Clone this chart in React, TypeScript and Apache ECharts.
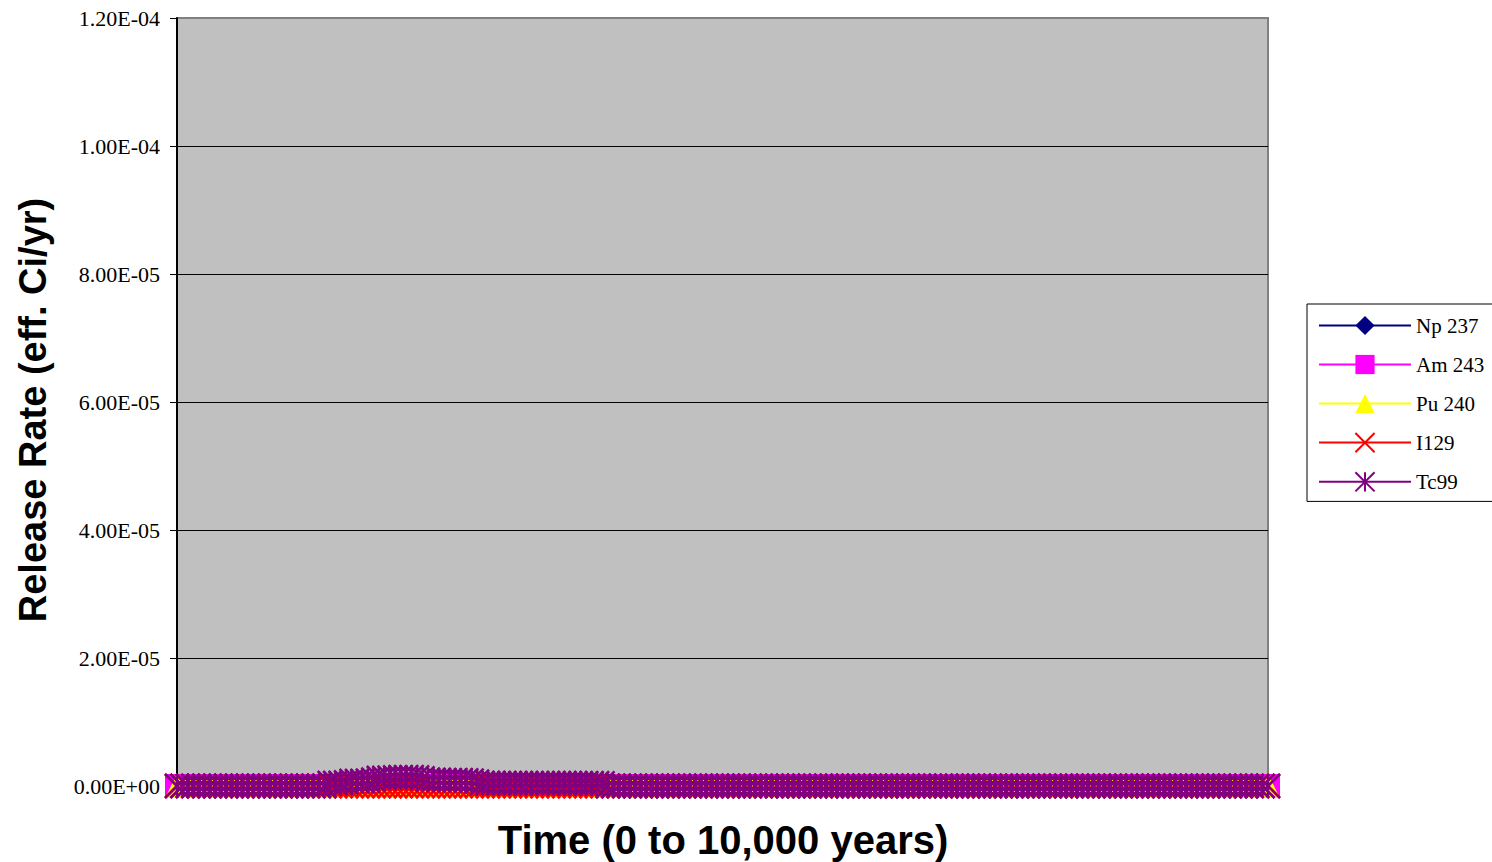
import React, { useEffect, useRef } from "react";
import * as echarts from "echarts";

// Time axis: 0 to 10,000 years in 50-year steps (201 points)
const years: number[] = Array.from({ length: 201 }, (_, i) => i * 50);

const np237: number[] = [
  0,0,0,0,0,0,0,0,0,0,0,0,0,0,0,0,0,0,0,0,
  0,0,0,0,0,0,0,0,0,0,0,0,0,0,0,0,0,0,0,0,
  0,0,0,0,0,0,0,0,0,0,0,0,0,0,0,0,0,0,0,0,
  0,0,0,0,0,0,0,0,0,0,0,0,0,0,0,0,0,0,0,0,
  0,0,0,0,0,0,0,0,0,0,0,0,0,0,0,0,0,0,0,0,
  0,0,0,0,0,0,0,0,0,0,0,0,0,0,0,0,0,0,0,0,
  0,0,0,0,0,0,0,0,0,0,0,0,0,0,0,0,0,0,0,0,
  0,0,0,0,0,0,0,0,0,0,0,0,0,0,0,0,0,0,0,0,
  0,0,0,0,0,0,0,0,0,0,0,0,0,0,0,0,0,0,0,0,
  0,0,0,0,0,0,0,0,0,0,0,0,0,0,0,0,0,0,0,0,
  0,
];

const am243: number[] = [
  0,0,0,0,0,0,0,0,0,0,0,0,0,0,0,0,0,0,0,0,
  0,0,0,0,0,0,0,0,0,0,0,0,0,0,0,0,0,0,0,0,
  0,0,0,0,0,0,0,0,0,0,0,0,0,0,0,0,0,0,0,0,
  0,0,0,0,0,0,0,0,0,0,0,0,0,0,0,0,0,0,0,0,
  0,0,0,0,0,0,0,0,0,0,0,0,0,0,0,0,0,0,0,0,
  0,0,0,0,0,0,0,0,0,0,0,0,0,0,0,0,0,0,0,0,
  0,0,0,0,0,0,0,0,0,0,0,0,0,0,0,0,0,0,0,0,
  0,0,0,0,0,0,0,0,0,0,0,0,0,0,0,0,0,0,0,0,
  0,0,0,0,0,0,0,0,0,0,0,0,0,0,0,0,0,0,0,0,
  0,0,0,0,0,0,0,0,0,0,0,0,0,0,0,0,0,0,0,0,
  0,
];

const pu240: number[] = [
  0,0,0,0,0,0,0,0,0,0,0,0,0,0,0,0,0,0,0,0,
  0,0,0,0,0,0,0,0,0,0,0,0,0,0,0,0,0,0,0,0,
  0,0,0,0,0,0,0,0,0,0,0,0,0,0,0,0,0,0,0,0,
  0,0,0,0,0,0,0,0,0,0,0,0,0,0,0,0,0,0,0,0,
  0,0,0,0,0,0,0,0,0,0,0,0,0,0,0,0,0,0,0,0,
  0,0,0,0,0,0,0,0,0,0,0,0,0,0,0,0,0,0,0,0,
  0,0,0,0,0,0,0,0,0,0,0,0,0,0,0,0,0,0,0,0,
  0,0,0,0,0,0,0,0,0,0,0,0,0,0,0,0,0,0,0,0,
  0,0,0,0,0,0,0,0,0,0,0,0,0,0,0,0,0,0,0,0,
  0,0,0,0,0,0,0,0,0,0,0,0,0,0,0,0,0,0,0,0,
  0,
];

const i129: number[] = [
  0,0,0,0,0,0,0,0,0,0,0,0,0,0,0,0,0,0,0,0,
  0,0,0,0,0,0,0,0,0,0,0,0,0,0,0,0,0,0,0,0,
  0,0,0,0,0,0,0,0,0,0,0,0,0,0,0,0,0,0,0,0,
  0,0,0,0,0,0,0,0,0,0,0,0,0,0,0,0,0,0,0,0,
  0,0,0,0,0,0,0,0,0,0,0,0,0,0,0,0,0,0,0,0,
  0,0,0,0,0,0,0,0,0,0,0,0,0,0,0,0,0,0,0,0,
  0,0,0,0,0,0,0,0,0,0,0,0,0,0,0,0,0,0,0,0,
  0,0,0,0,0,0,0,0,0,0,0,0,0,0,0,0,0,0,0,0,
  0,0,0,0,0,0,0,0,0,0,0,0,0,0,0,0,0,0,0,0,
  0,0,0,0,0,0,0,0,0,0,0,0,0,0,0,0,0,0,0,0,
  0,
];

const tc99: number[] = [
  0,0,0,0,0,0,0,0,0,0,0,0,0,0,0,0,0,0,0,0,
  0,0,0,0,0,0,0,0,
  4.7e-7,4.7e-7,4.8e-7,5.5e-7,7.8e-7,7.8e-7,7.8e-7,8.5e-7,1.0e-6,1.25e-6,
  1.25e-6,1.3e-6,1.35e-6,1.4e-6,1.4e-6,1.4e-6,1.35e-6,1.2e-6,1.0e-6,9.4e-7,
  9.4e-7,9.2e-7,9.2e-7,9.0e-7,9.0e-7,8.8e-7,8.5e-7,7.0e-7,5.0e-7,
  4.7e-7,4.7e-7,4.6e-7,4.6e-7,4.6e-7,4.6e-7,4.5e-7,4.5e-7,4.5e-7,4.5e-7,4.5e-7,
  4.4e-7,4.4e-7,4.4e-7,4.4e-7,4.4e-7,4.3e-7,4.3e-7,4.3e-7,4.3e-7,4.3e-7,4.2e-7,
  0,0,0,0,0,0,0,0,0,0,0,0,0,0,0,0,0,0,0,0,
  0,0,0,0,0,0,0,0,0,0,0,0,0,0,0,0,0,0,0,0,
  0,0,0,0,0,0,0,0,0,0,0,0,0,0,0,0,0,0,0,0,
  0,0,0,0,0,0,0,0,0,0,0,0,0,0,0,0,0,0,0,0,
  0,0,0,0,0,0,0,0,0,0,0,0,0,0,0,0,0,0,0,0,
  0,0,0,0,0,0,0,0,0,0,0,0,0,0,0,0,0,0,0,0,
  0,0,
];

const seriesNames = ["Np 237", "Am 243", "Pu 240", "I129", "Tc99"];
const seriesColors = ["#000080", "#FF00FF", "#FFFF00", "#FF0000", "#800080"];
const seriesValues = [np237, am243, pu240, i129, tc99];

const X_PATH = "path://M0 0L10 10M10 0L0 10";
const STAR_PATH = "path://M0 0L10 10M10 0L0 10M5 0L5 10";
const seriesSymbols = ["diamond", "rect", "triangle", X_PATH, STAR_PATH];

const yTitle = "Release Rate (eff. Ci/yr)";
const xTitle = "Time (0 to 10,000 years)";

function fmtExp(v: number): string {
  if (v === 0) return "0.00E+00";
  const [m, e] = v.toExponential(2).split("e");
  const n = parseInt(e, 10);
  const sign = n < 0 ? "-" : "+";
  return m + "E" + sign + String(Math.abs(n)).padStart(2, "0");
}

export default function App() {
  const ref = useRef<HTMLDivElement>(null);
  useEffect(() => {
    if (!ref.current) return;
    const chart = echarts.init(ref.current, undefined, { renderer: "svg" });
    const series = seriesNames.map((name, idx) => {
      const isStroke = idx >= 3;
      return {
        name,
        type: "line",
        data: seriesValues[idx],
        symbol: seriesSymbols[idx],
        symbolSize: 24,
        showSymbol: true,
        showAllSymbol: true,
        clip: false,
        lineStyle: { color: seriesColors[idx], width: 2.5 },
        itemStyle: isStroke
          ? { color: "rgba(0,0,0,0)", borderColor: seriesColors[idx], borderWidth: 2.5 }
          : { color: seriesColors[idx], borderColor: seriesColors[idx], borderWidth: 0 },
        emphasis: { disabled: true },
      };
    });
    chart.setOption({
      animation: false,
      backgroundColor: "#FFFFFF",
      grid: {
        left: 177,
        right: 224,
        top: 18,
        bottom: 76,
        outerBoundsMode: "none",
        containLabel: false,
        show: true,
        backgroundColor: "#C0C0C0",
        borderColor: "#808080",
        borderWidth: 2,
      },
      graphic: [
        {
          type: "text",
          x: 33,
          y: 410,
          rotation: Math.PI / 2,
          style: {
            text: yTitle,
            fontFamily: "Liberation Sans",
            fontWeight: "bold",
            fontSize: 38,
            fill: "#000",
            align: "center",
            verticalAlign: "middle",
          },
        },
        {
          type: "text",
          x: 723,
          y: 840,
          style: {
            text: xTitle,
            fontFamily: "Liberation Sans",
            fontWeight: "bold",
            fontSize: 40,
            fill: "#000",
            align: "center",
            verticalAlign: "middle",
          },
        },
      ],
      legend: {
        orient: "vertical",
        left: 1307,
        top: 304,
        padding: [11, 10, 9, 11],
        itemWidth: 92,
        itemHeight: 24,
        itemGap: 18,
        backgroundColor: "#FFFFFF",
        borderColor: "#000000",
        borderWidth: 1,
        borderRadius: 0,
        textStyle: { fontFamily: "Liberation Serif", fontSize: 21, color: "#000" },
        data: seriesNames,
      },
      xAxis: {
        type: "category",
        data: years,
        boundaryGap: false,
        axisLabel: { show: false },
        axisTick: { show: false },
        axisLine: { show: true, lineStyle: { color: "#000", width: 1 } },
        splitLine: { show: false },
      },
      yAxis: {
        type: "value",
        min: 0,
        max: 1.2e-4,
        interval: 2e-5,
        axisLine: { show: true, lineStyle: { color: "#000", width: 2 } },
        axisTick: { show: true, length: 7, lineStyle: { color: "#000", width: 1 } },
        axisLabel: {
          formatter: fmtExp,
          fontFamily: "Liberation Serif",
          fontSize: 22,
          color: "#000",
          margin: 17,
        },
        splitLine: {
          show: true,
          showMinLine: false,
          showMaxLine: false,
          lineStyle: { color: "#000", width: 1 },
        },
      },
      series,
    });
    return () => chart.dispose();
  }, []);
  return (
    <div
      ref={ref}
      style={{ position: "fixed", left: 0, top: 0, width: 1492, height: 862 }}
    />
  );
}
